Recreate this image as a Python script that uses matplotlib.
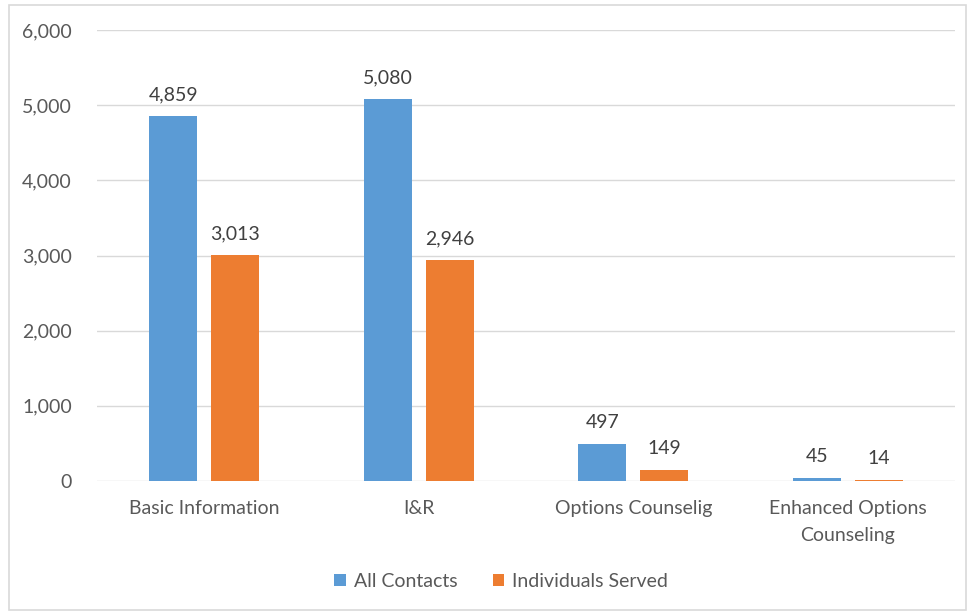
import matplotlib
matplotlib.use("Agg")
import matplotlib.pyplot as plt
import numpy as np
from matplotlib.patches import Rectangle

categories = ["Basic Information", "I&R", "Options Counselig", "Enhanced Options\nCounseling"]
all_contacts = [4859, 5080, 497, 45]
individuals = [3013, 2946, 149, 14]
series_names = ["All Contacts", "Individuals Served"]
yticks = [0, 1000, 2000, 3000, 4000, 5000, 6000]

blue = "#5b9bd5"
orange = "#ed7d31"
txt = "#595959"

plt.rcParams['font.family'] = ['Lato', 'DejaVu Sans']

fig = plt.figure(figsize=(9.69, 6.13), dpi=100)
ax = fig.add_axes([0.1001, 0.2153, 0.8855, 0.7357])

x = np.arange(len(categories))
w = 0.224
off = 0.1445
b1 = ax.bar(x - off, all_contacts, w, color=blue, label=series_names[0], zorder=3)
b2 = ax.bar(x + off, individuals, w, color=orange, label=series_names[1], zorder=3)

for bars, vals in [(b1, all_contacts), (b2, individuals)]:
    for r, v in zip(bars, vals):
        ax.annotate("{:,}".format(v), (r.get_x() + r.get_width() / 2, v),
                    xytext=(0, 9), textcoords="offset points",
                    ha="center", va="bottom", fontsize=14, color="#404040")

ax.set_xlim(-0.5, 3.5)
ax.set_ylim(0, 6000)
ax.set_yticks(yticks)
ax.set_yticklabels(["{:,}".format(t) for t in yticks])
ax.set_xticks(x)
ax.set_xticklabels(categories, linespacing=1.65)
ax.tick_params(axis="both", length=0, labelsize=14, labelcolor=txt)
ax.tick_params(axis="y", pad=18)
ax.tick_params(axis="x", pad=14)
ax.grid(axis="y", color="#d9d9d9", linewidth=1, zorder=0)
for s in ax.spines.values():
    s.set_visible(False)

ax.legend(loc="center", bbox_to_anchor=(0.471, -0.222), ncol=2, frameon=False,
          fontsize=14, labelcolor=txt, handlelength=0.6, handleheight=0.6,
          handletextpad=0.4, columnspacing=1.8)

fig.patches.append(Rectangle((9 / 969, 3 / 613), 957 / 969, 605 / 613,
                             transform=fig.transFigure, fill=False,
                             edgecolor="#d9d9d9", linewidth=1.2))

fig.savefig("out.png", dpi=100)
